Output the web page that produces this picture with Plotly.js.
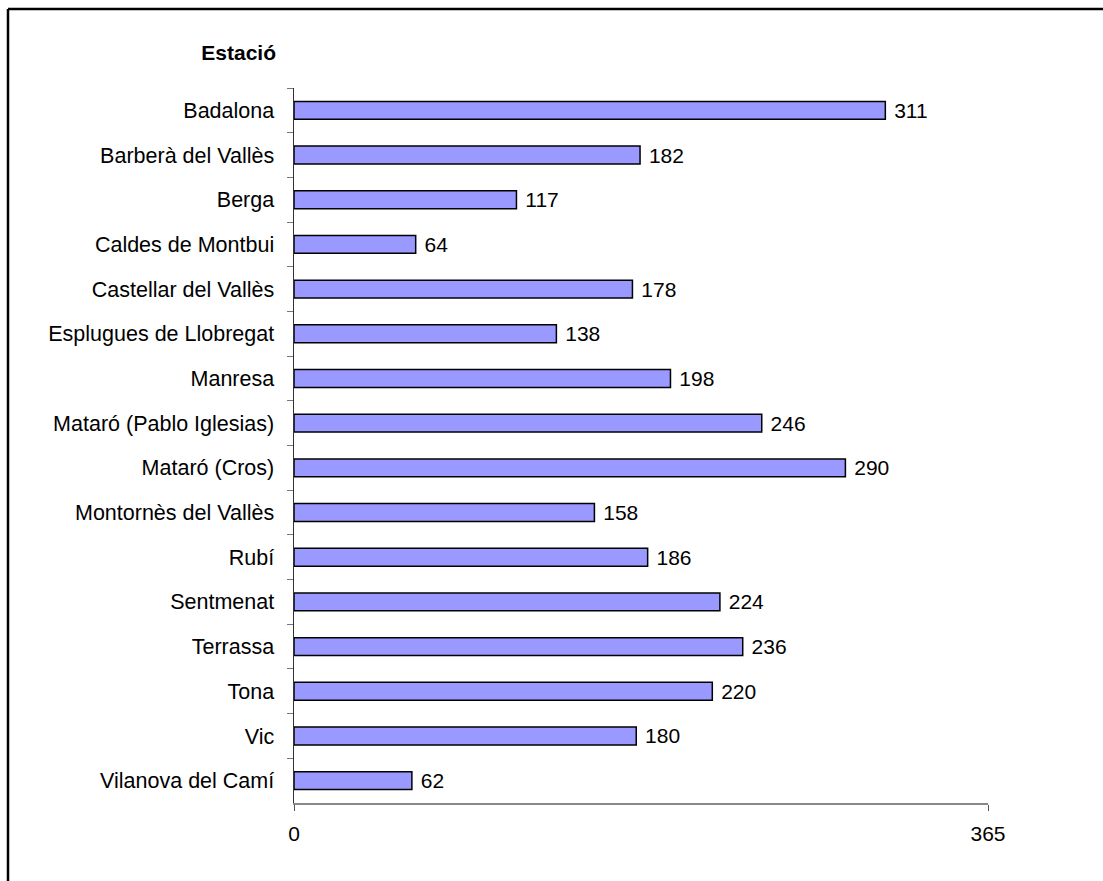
<!DOCTYPE html>
<html>
<head>
<meta charset="utf-8">
<script src="https://cdn.plot.ly/plotly-3.0.1.min.js"></script>
<style>
  html, body { margin: 0; padding: 0; background: #fff; }
  #chart { width: 1103px; height: 881px; }
</style>
</head>
<body>
<div id="chart"></div>
<script>
const stations = [
  "Badalona", "Barberà del Vallès", "Berga", "Caldes de Montbui",
  "Castellar del Vallès", "Esplugues de Llobregat", "Manresa",
  "Mataró (Pablo Iglesias)", "Mataró (Cros)", "Montornès del Vallès",
  "Rubí", "Sentmenat", "Terrassa", "Tona", "Vic", "Vilanova del Camí"
];
const days = [311, 182, 117, 64, 178, 138, 198, 246, 290, 158, 186, 224, 236, 220, 180, 62];
const xTicks = [0, 365];
const titleText = "Estació";

const FONT = "Liberation Sans, Arial, sans-serif";

const trace = {
  type: "bar",
  orientation: "h",
  y: stations,
  x: days,
  width: 0.4,
  marker: { color: "#9999FF", line: { color: "#000000", width: 1.5 } },
  text: days.map(v => "\u00A0" + v),
  textposition: "outside",
  constraintext: "none",
  cliponaxis: false,
  textfont: { family: FONT, size: 21, color: "#000" },
  hoverinfo: "x+y"
};

const layout = {
  width: 1103,
  height: 881,
  margin: { l: 294, r: 115, t: 88, b: 78 },
  paper_bgcolor: "#ffffff",
  plot_bgcolor: "#ffffff",
  showlegend: false,
  font: { family: FONT, size: 21, color: "#000" },
  title: {
    text: "<b>" + titleText + "</b>",
    font: { family: FONT, size: 21, color: "#000" },
    xref: "container", yref: "container",
    x: 276 / 1103, xanchor: "right",
    y: 1 - 53 / 881, yanchor: "middle"
  },
  xaxis: {
    range: [0, 365],
    tickmode: "array",
    tickvals: xTicks,
    ticktext: xTicks.map(String),
    ticks: "outside",
    ticklen: 6,
    tickcolor: "#555",
    tickwidth: 1,
    showline: true,
    linecolor: "#888",
    linewidth: 2,
    showgrid: false,
    zeroline: false,
    ticklabelstandoff: 5,
    tickfont: { family: FONT, size: 21, color: "#000" },
    fixedrange: true
  },
  yaxis: {
    type: "category",
    autorange: "reversed",
    tickson: "boundaries",
    ticks: "outside",
    ticklen: 6,
    tickcolor: "#777",
    tickwidth: 1,
    showline: true,
    linecolor: "#333",
    linewidth: 1.5,
    showgrid: false,
    zeroline: false,
    ticklabelstandoff: 14,
    tickfont: { family: FONT, size: 21.5, color: "#000" },
    fixedrange: true
  },
  shapes: [
    { type: "line", xref: "paper", yref: "paper",
      x0: (8 - 294) / 694, x1: 1.4, y0: (803 - 9) / 715, y1: (803 - 9) / 715,
      line: { color: "#000", width: 2.5 } },
    { type: "line", xref: "paper", yref: "paper",
      x0: (8 - 294) / 694, x1: (8 - 294) / 694, y0: (803 - 9) / 715, y1: -0.3,
      line: { color: "#000", width: 2.5 } }
  ]
};

Plotly.newPlot("chart", [trace], layout, { displayModeBar: false, staticPlot: true });
</script>
</body>
</html>
